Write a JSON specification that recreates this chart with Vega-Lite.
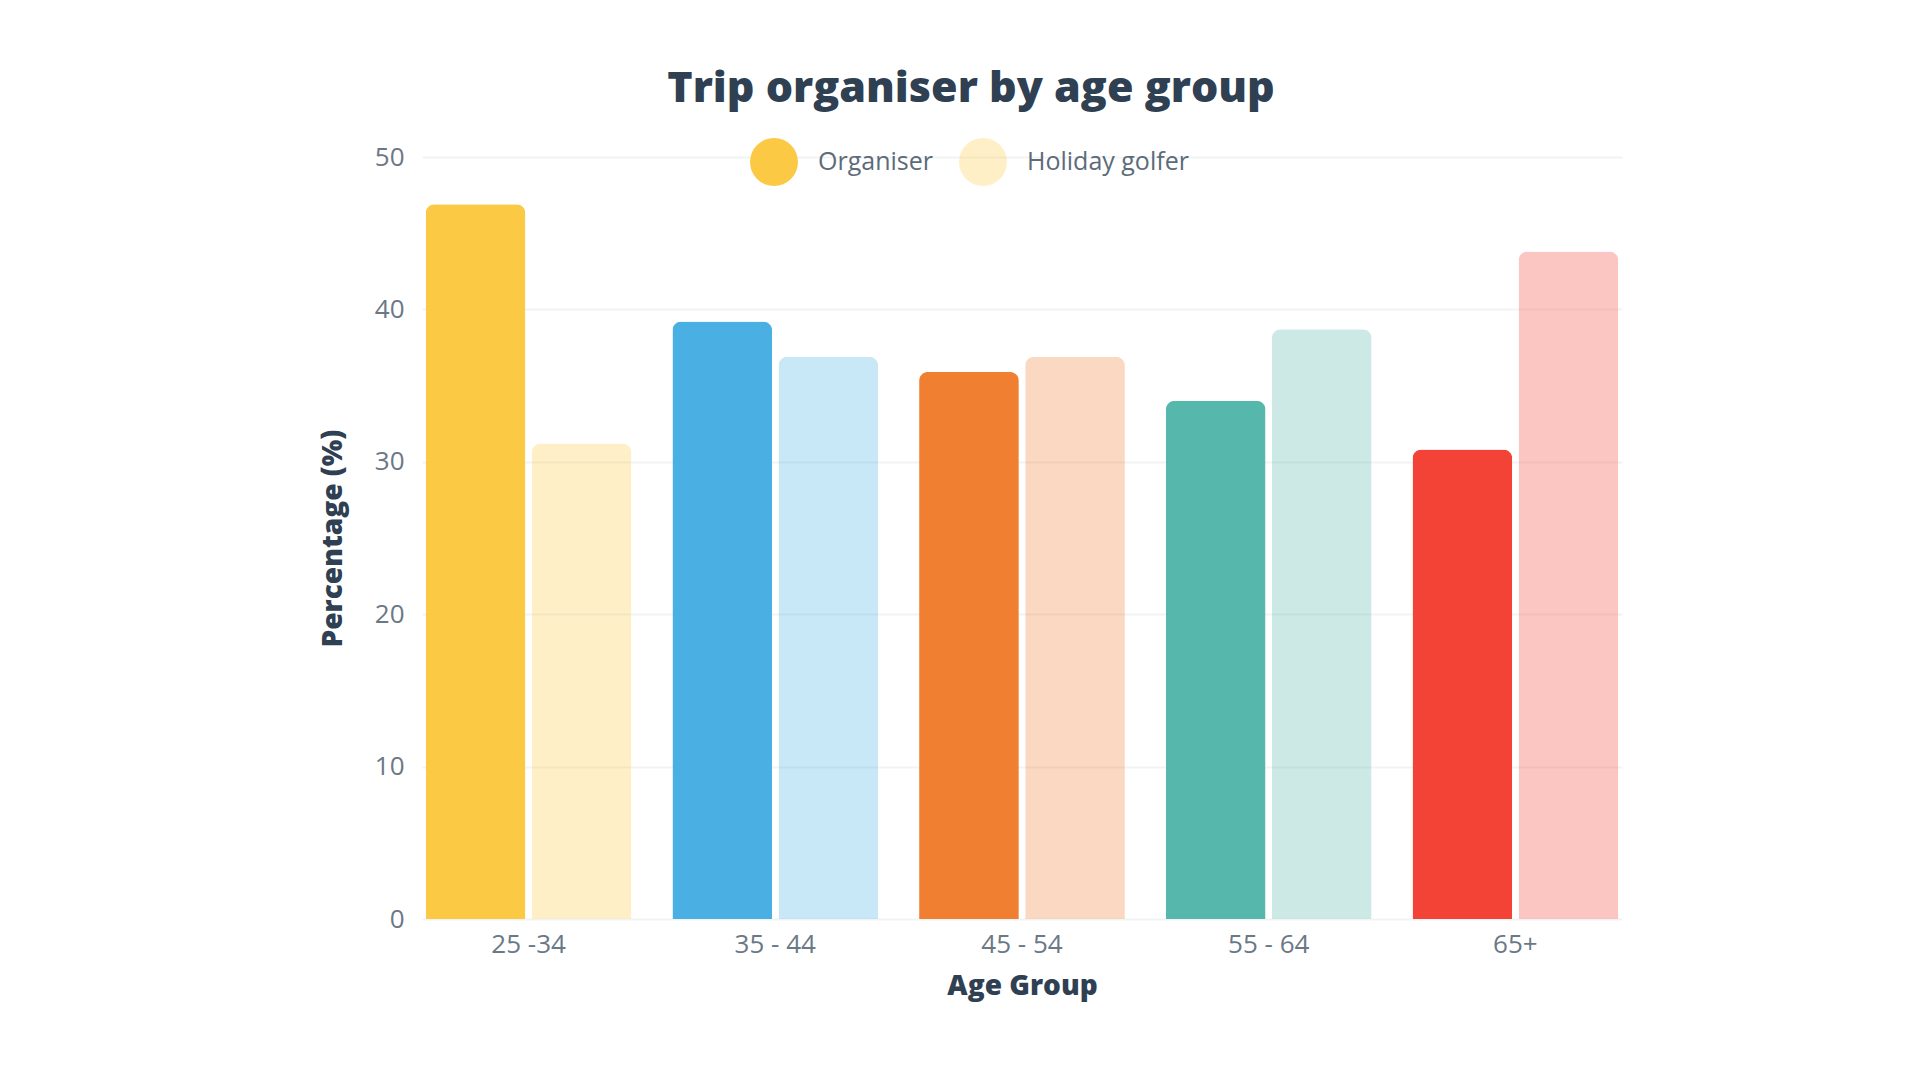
{
  "$schema": "https://vega.github.io/schema/vega-lite/v6.json",
  "autosize": {"type": "none"},
  "padding": {"left": 422, "top": 157, "right": 298, "bottom": 161},
  "width": 1200,
  "height": 762,
  "background": "white",
  "title": {
    "text": "Trip organiser by age group",
    "anchor": "middle",
    "frame": "group",
    "dx": -51,
    "offset": 27,
    "fontSize": 43,
    "fontWeight": 800,
    "font": "Open Sans",
    "color": "#2F4053"
  },
  "data": {
    "values": [
      {"age": "25 -34", "role": "Organiser", "pct": 46.9},
      {"age": "25 -34", "role": "Holiday golfer", "pct": 31.2},
      {"age": "35 - 44", "role": "Organiser", "pct": 39.2},
      {"age": "35 - 44", "role": "Holiday golfer", "pct": 36.9},
      {"age": "45 - 54", "role": "Organiser", "pct": 35.9},
      {"age": "45 - 54", "role": "Holiday golfer", "pct": 36.9},
      {"age": "55 - 64", "role": "Organiser", "pct": 34.0},
      {"age": "55 - 64", "role": "Holiday golfer", "pct": 38.7},
      {"age": "65+", "role": "Organiser", "pct": 30.8},
      {"age": "65+", "role": "Holiday golfer", "pct": 43.8}
    ]
  },
  "mark": {
    "type": "bar",
    "cornerRadiusTopLeft": 9,
    "cornerRadiusTopRight": 9
  },
  "encoding": {
    "x": {
      "field": "age",
      "type": "nominal",
      "sort": null,
      "title": "Age Group",
      "scale": {"paddingInner": 0.166, "paddingOuter": 0.015},
      "axis": {
        "labelAngle": 0,
        "labelPadding": 12,
        "titlePadding": 15,
        "domain": false,
        "ticks": false
      }
    },
    "xOffset": {
      "field": "role",
      "type": "nominal",
      "sort": ["Organiser", "Holiday golfer"],
      "scale": {"paddingInner": 0.06}
    },
    "y": {
      "field": "pct",
      "type": "quantitative",
      "title": "Percentage (%)",
      "scale": {"domain": [0, 50], "nice": false},
      "axis": {
        "values": [0, 10, 20, 30, 40, 50],
        "labelPadding": 18,
        "titlePadding": 27,
        "domain": false,
        "ticks": false
      }
    },
    "color": {
      "field": "age",
      "type": "nominal",
      "legend": null,
      "scale": {
        "domain": ["25 -34", "35 - 44", "45 - 54", "55 - 64", "65+"],
        "range": ["#FCC945", "#4AB0E4", "#F07F32", "#56B7AD", "#F34336"]
      }
    },
    "opacity": {
      "field": "role",
      "type": "nominal",
      "scale": {
        "type": "ordinal",
        "domain": ["Organiser", "Holiday golfer"],
        "range": [1, 0.3]
      },
      "legend": {
        "title": null,
        "orient": "none",
        "direction": "horizontal",
        "legendX": 328,
        "legendY": -19,
        "symbolType": "circle",
        "symbolSize": 2300,
        "symbolFillColor": "#FCC945",
        "symbolStrokeWidth": 0,
        "labelFontSize": 25,
        "labelLimit": 400,
        "labelFont": "Open Sans",
        "labelColor": "#5D6B7A",
        "labelOffset": 20,
        "columnPadding": 26
      }
    }
  },
  "config": {
    "view": {"stroke": null},
    "font": "Open Sans",
    "axis": {
      "grid": true,
      "gridColor": "#F2F3F4",
      "gridWidth": 2,
      "labelFont": "Open Sans",
      "labelFontSize": 26,
      "labelColor": "#6B7886",
      "titleFont": "Open Sans",
      "titleFontSize": 28,
      "titleFontWeight": 800,
      "titleColor": "#2F4053"
    },
    "axisX": {"grid": false}
  }
}
